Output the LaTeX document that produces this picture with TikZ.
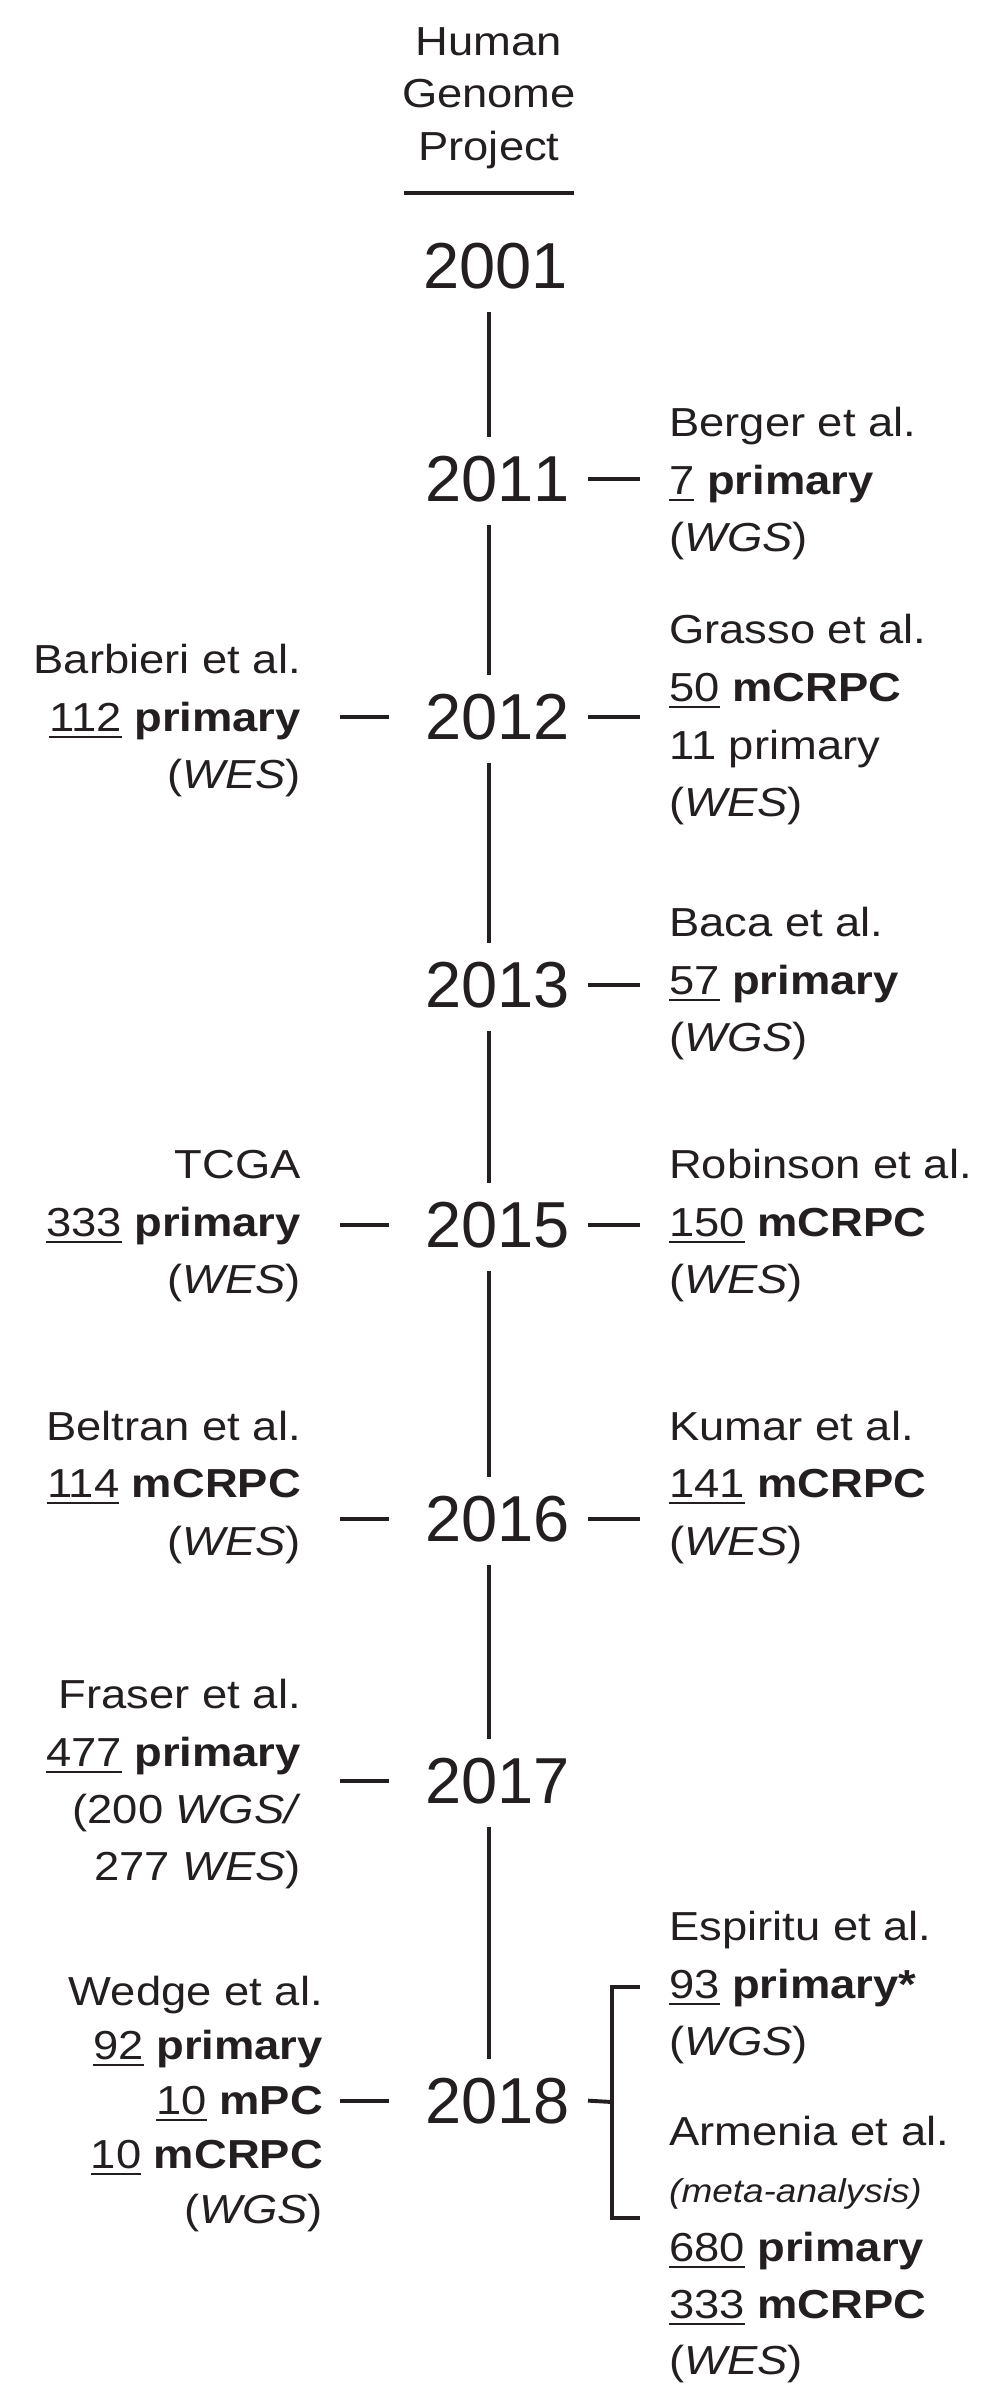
\documentclass[tikz,border=0pt]{standalone}
\usepackage{fontspec}
\newfontfamily\bodyfont[FakeStretch=1.12]{Liberation Sans}
\newfontfamily\yearfont[Kerning=Off]{Liberation Sans}
\definecolor{ink}{RGB}{35,31,32}
\newcommand\ulnum[1]{\setbox0=\hbox{#1}\rlap{\color{ink}\rule[-7pt]{\wd0}{2.2pt}}\box0\relax}
\begin{document}
\begin{tikzpicture}[x=1pt,y=-1pt,
  txt/.style={font=\bodyfont\fontsize{40.5}{48}\selectfont, text=ink, inner sep=0pt},
  lt/.style={txt, anchor=base east},
  rt/.style={txt, anchor=base west},
  hd/.style={txt, anchor=base},
  meta/.style={txt, font=\bodyfont\fontsize{33}{40}\selectfont\itshape, anchor=base west},
  yr/.style={font=\yearfont\fontsize{65}{70}\selectfont, text=ink, inner sep=0pt, anchor=base west},
  tl/.style={draw=ink, line width=3.9pt},
  tick/.style={draw=ink, line width=3.9pt}]
\fill[white] (0,0) rectangle (1000,2402);
\useasboundingbox (0,0) rectangle (1000,2402);

% header
\node[hd] (h1) at (489,55) {Human};
\node[hd] (h2) at (489,107) {Genome};
\node[hd] (h3) at (489,160) {Project};
\coordinate (rl) at (404,193);
\coordinate (rr) at (574,193);
\draw[tick] (rl) -- (rr);

% timeline axis position
\coordinate (tlx) at (489,0);

% years
\node[yr] (y2001) at (423,288) {2001};
\node[yr] (y2011) at (425,501) {2011};
\node[yr] (y2012) at (425,739) {2012};
\node[yr] (y2013) at (425,1007) {2013};
\node[yr] (y2015) at (425,1247) {2015};
\node[yr] (y2016) at (425,1541) {2016};
\node[yr] (y2017) at (425,1803) {2017};
\node[yr] (y2018) at (425,2123) {2018};

% timeline
\foreach \a/\b in {2001/2011,2011/2012,2012/2013,2013/2015,2015/2016,2016/2017,2017/2018}
  \draw[tl] ([yshift=-23pt]tlx |- y\a.south) -- ([yshift=18pt]tlx |- y\b.north);

% right ticks
\foreach \a in {2011,2012,2013,2015,2016}
  \draw[tick] ([xshift=99pt]tlx |- y\a.east) -- ++(52,0);
% left ticks
\foreach \a in {2012,2015,2016,2017,2018}
  \draw[tick] ([xshift=-100pt]tlx |- y\a.west) -- ++(-49,0);

% 2018 bracket
\coordinate (bm) at (612,2102);
\coordinate (bt) at (640,1987);
\coordinate (bb) at (640,2218);
\draw[tick] ([xshift=99pt]tlx |- y2018.east) -- (bm);
\draw[tick] (bt) -- (612,1987) -- (612,2218) -- (bb);

% right texts
\node[rt] (be1) at (669,436) {Berger et al.};
\node[rt] (be2) at (669,494) {\ulnum{7} \textbf{primary}};
\node[rt] (be3) at (669,551) {(\textit{WGS})};

\node[rt] (gr1) at (669,643) {Grasso et al.};
\node[rt] (gr2) at (669,701) {\ulnum{50} \textbf{mCRPC}};
\node[rt] (gr3) at (669,759) {11 primary};
\node[rt] (gr4) at (669,816) {(\textit{WES})};

\node[rt] (ba1) at (669,936) {Baca et al.};
\node[rt] (ba2) at (669,994) {\ulnum{57} \textbf{primary}};
\node[rt] (ba3) at (669,1051) {(\textit{WGS})};

\node[rt] (ro1) at (669,1178) {Robinson et al.};
\node[rt] (ro2) at (669,1236) {\ulnum{150} \textbf{mCRPC}};
\node[rt] (ro3) at (669,1293) {(\textit{WES})};

\node[rt] (ku1) at (669,1440) {Kumar et al.};
\node[rt] (ku2) at (669,1497) {\ulnum{141} \textbf{mCRPC}};
\node[rt] (ku3) at (669,1555) {(\textit{WES})};

\node[rt] (es1) at (669,1940) {Espiritu et al.};
\node[rt] (es2) at (669,1998) {\ulnum{93} \textbf{primary*}};
\node[rt] (es3) at (669,2055) {(\textit{WGS})};

\node[rt] (ar1) at (669,2145) {Armenia et al.};
\node[meta] (ar2) at (669,2202) {(meta-analysis)};
\node[rt] (ar3) at (669,2261) {\ulnum{680} \textbf{primary}};
\node[rt] (ar4) at (669,2318) {\ulnum{333} \textbf{mCRPC}};
\node[rt] (ar5) at (669,2374) {(\textit{WES})};

% left texts
\node[lt] (bb1) at (301,673) {Barbieri et al.};
\node[lt] (bb2) at (301,731) {\ulnum{112} \textbf{primary}};
\node[lt] (bb3) at (301,788) {(\textit{WES})};

\node[lt] (tc1) at (301,1178) {TCGA};
\node[lt] (tc2) at (301,1236) {\ulnum{333} \textbf{primary}};
\node[lt] (tc3) at (301,1293) {(\textit{WES})};

\node[lt] (bl1) at (301,1440) {Beltran et al.};
\node[lt] (bl2) at (301,1497) {\ulnum{114} \textbf{mCRPC}};
\node[lt] (bl3) at (301,1555) {(\textit{WES})};

\node[lt] (fr1) at (301,1708) {Fraser et al.};
\node[lt] (fr2) at (301,1766) {\ulnum{477} \textbf{primary}};
\node[lt] (fr3) at (301,1823) {(200 \textit{WGS/}};
\node[lt] (fr4) at (301,1880) {277 \textit{WES})};

\node[lt] (we1) at (323,2005) {Wedge et al.};
\node[lt] (we2) at (323,2059) {\ulnum{92} \textbf{primary}};
\node[lt] (we3) at (323,2114) {\ulnum{10} \textbf{mPC}};
\node[lt] (we4) at (323,2168) {\ulnum{10} \textbf{mCRPC}};
\node[lt] (we5) at (323,2223) {(\textit{WGS})};
\end{tikzpicture}
\end{document}
